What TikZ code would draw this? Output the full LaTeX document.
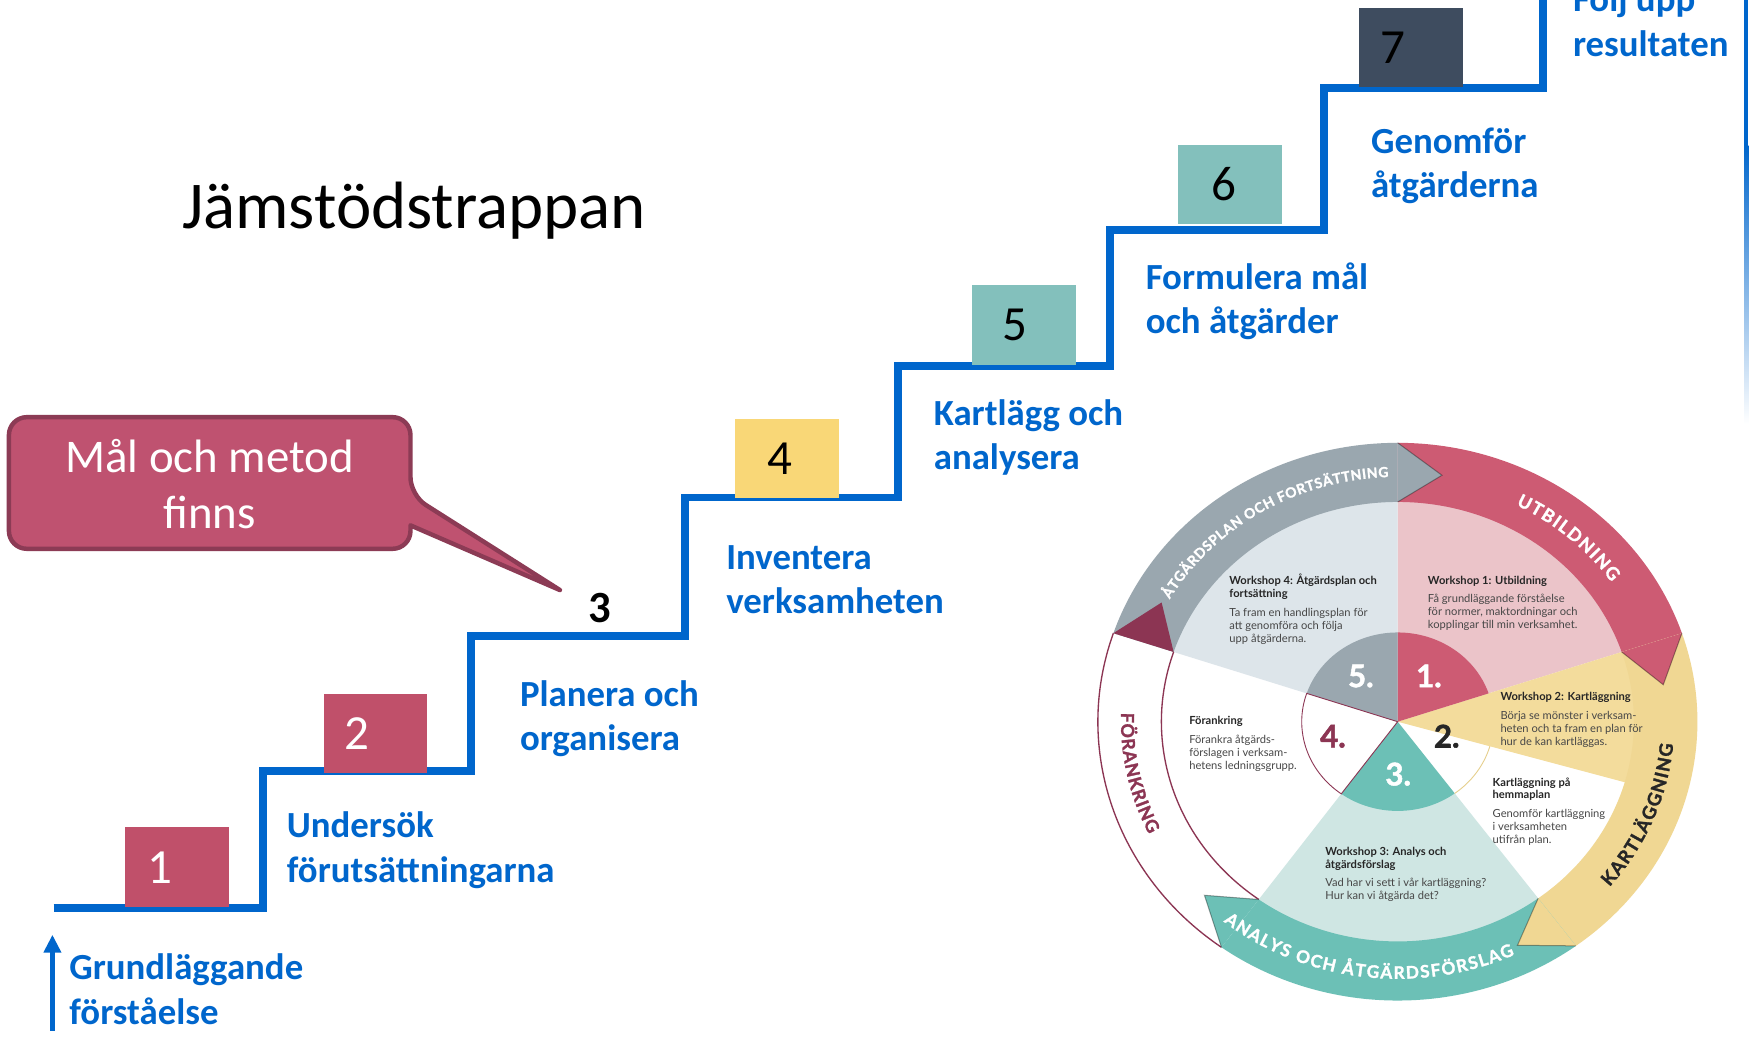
\documentclass[tikz,border=0pt]{standalone}
\usepackage{fontspec}
\setmainfont{Carlito}
\newfontfamily\lato{Lato}
\newfontfamily\latoheavy{Lato}[FakeBold=1.6]
\usetikzlibrary{arrows.meta,decorations.text}
\definecolor{sblue}{HTML}{0066CC}
\definecolor{rose}{HTML}{C0506A}
\definecolor{boxyellow}{HTML}{F9D777}
\definecolor{boxteal}{HTML}{83C0BC}
\definecolor{boxdark}{HTML}{3E4C5F}
\definecolor{callfill}{HTML}{BF5270}
\definecolor{callline}{HTML}{8C3B55}
\definecolor{cred}{HTML}{CD5B73}
\definecolor{cpink}{HTML}{EBC4C9}
\definecolor{cyel}{HTML}{F3DC9C}
\definecolor{cyelring}{HTML}{F0D793}
\definecolor{cteal}{HTML}{6CC0B6}
\definecolor{ctealL}{HTML}{CFE6E3}
\definecolor{cgrey}{HTML}{9AA7AF}
\definecolor{cgreyL}{HTML}{DDE5EA}
\definecolor{cdred}{HTML}{8C3553}
\definecolor{ctext}{HTML}{262626}
\definecolor{cbody}{HTML}{474747}
\definecolor{cyline}{HTML}{E6CF8C}
\tikzset{
  stair/.style={draw=sblue, line width=7pt, line join=miter},
  stepbox/.style={inner sep=0, minimum width=93pt, minimum height=71pt, anchor=south west},
  stepnum/.style={inner sep=0, font=\fontsize{44}{44}\selectfont},
  lbl/.style={inner sep=0, anchor=north west, align=left, text=sblue, font=\bfseries\fontsize{33}{40}\selectfont},
  blk/.style={inner sep=0, anchor=north west, align=left, text=cbody, font=\lato\fontsize{10}{11.6}\selectfont},
  cnum/.style={inner sep=0, font=\latoheavy\bfseries\fontsize{28}{28}\selectfont},
  tipedge/.style={draw=black, draw opacity=0.35, line width=0.9pt},
  ringsec/.style n args={6}{insert path={(#1:#3 and #4) -- (#1:#5 and #6) arc[start angle=#1, end angle=#2, x radius=#5, y radius=#6] -- (#2:#3 and #4) arc[start angle=#2, end angle=#1, x radius=#3, y radius=#4] -- cycle}},
  pie/.style n args={4}{insert path={(0,0) -- (#1:#3 and #4) arc[start angle=#1, end angle=#2, x radius=#3, y radius=#4] -- cycle}},
  ringtext/.style n args={3}{decorate, decoration={text along path, text align=fit to path, text color=#1, text={|\latoheavy\bfseries\fontsize{#2}{#2}\selectfont|#3}}},
}
\begin{document}
\begin{tikzpicture}[x=1pt,y=-1pt]
\useasboundingbox (0,0) rectangle (1568,930.6);
\fill[white] (0,0) rectangle (1568,930.6);

% faint right line
\fill[sblue] (1563.5,0) rectangle (1567.5,130);
\shade[top color=sblue, bottom color=white] (1563.5,130) rectangle (1567.5,380);

% title
\node[anchor=base west, inner sep=0, font=\fontsize{60}{60}\selectfont] (title) at (163,205) {Jämstödstrappan};

% staircase
\draw[stair] (48,814) -- (236,814) -- (236,691) -- (422,691) -- (422,570) -- (614,570) -- (614,446) -- (805,446) -- (805,328) -- (995,328) -- (995,206) -- (1187,206) -- (1187,79) -- (1383,79) -- (1383,-5);

% boxes
\node[stepbox, fill=rose] (b1) at (112,813) {};
\node[stepbox, fill=rose] (b2) at (290,693) {};
\node[stepbox, fill=boxyellow] (b4) at (659,447) {};
\node[stepbox, fill=boxteal] (b5) at (871,327) {};
\node[stepbox, fill=boxteal] (b6) at (1056,201) {};
\node[stepbox, fill=boxdark] (b7) at (1218,78) {};
\node[stepnum, text=white] (n1) at (143,778) {1};
\node[stepnum, text=white] (n2) at (320,658) {2};
\node[stepnum, font=\bfseries\fontsize{40}{40}\selectfont] (n3) at (538,545) {3};
\node[stepnum] (n4) at (699,411) {4};
\node[stepnum] (n5) at (910,291) {5};
\node[stepnum] (n6) at (1097,165) {6};
\node[stepnum] (n7) at (1249,43) {7};

% labels
\node[lbl] (g0) at (62,850) {\rule{0pt}{28pt}Grundläggande\\förståelse};
\node[lbl] (g1) at (257,723) {\rule{0pt}{28pt}Undersök\\förutsättningarna};
\node[lbl] (g2) at (466,605) {\rule{0pt}{28pt}Planera och\\organisera};
\node[lbl] (g3) at (651,482) {\rule{0pt}{28pt}Inventera\\verksamheten};
\node[lbl] (g4) at (837,353) {\rule{0pt}{28pt}Kartlägg och\\analysera};
\node[lbl] (g5) at (1027,231) {\rule{0pt}{28pt}Formulera mål\\och åtgärder};
\node[lbl] (g6) at (1229,109) {\rule{0pt}{28pt}Genomför\\åtgärderna};
\node[lbl] (g7) at (1410,-17.5) {\rule{0pt}{28pt}Följ upp\\resultaten};

% callout
\filldraw[fill=callfill, draw=callline, line width=4pt, line join=round] (8,433) [rounded corners=16pt] -- (8,374) -- (368,374) -- (368,444) [sharp corners] -- (502,529) -- (368,471) [rounded corners=16pt] -- (368,492) -- (8,492) -- cycle;
\node[inner sep=0, anchor=north, align=center, text=white, font=\fontsize{42}{51}\selectfont] (calltext) at (188,383) {\rule{0pt}{40pt}Mål och metod\\finns};

% bottom arrow
\coordinate (abot) at (47,924);
\coordinate (atop) at (47,838);
\draw[sblue, line width=5pt, -{Triangle[width=15pt,length=16pt]}] (abot) -- (atop);

% circle
\begin{scope}[shift={(1253,647)}, y=1pt]
 \fill[cpink] (0,0) [pie={90}{18.5}{214}{199}];
 \fill[cyel] (0,0) [pie={18.5}{-16}{214}{199}];
 \fill[ctealL] (0,0) [pie={-53.5}{-126}{214}{199}];
 \fill[cgreyL] (0,0) [pie={161.5}{90}{214}{199}];
 \fill[cred] (0,0) [pie={90}{18.5}{86}{80}];
 \fill[cteal] (0,0) [pie={-53.5}{-126}{86}{80}];
 \fill[cgrey] (0,0) [pie={161.5}{90}{86}{80}];
 \draw[cyline, line width=0.8pt] (-16:86 and 80) arc[start angle=-16, end angle=-53.5, x radius=86, y radius=80];
 \draw[cdred, line width=0.8pt] (0,0) -- (-126:86 and 80) arc[start angle=-126, end angle=-198.5, x radius=86, y radius=80] -- cycle;
 % ring
 \fill[cred] (0,0) [ringsec={90}{18.5}{211.8}{197}{268.75}{250}];
 \fill[cyelring] (0,0) [ringsec={18.5}{-53.5}{211.8}{197}{268.75}{250}];
 \fill[cteal] (0,0) [ringsec={-53.5}{-126}{211.8}{197}{268.75}{250}];
 \fill[cgrey] (0,0) [ringsec={161.5}{90}{211.8}{197}{268.75}{250}];
 \draw[cdred, line width=1.2pt] (-126:268.75 and 250) arc[start angle=-126, end angle=-198.5, x radius=268.75, y radius=250];
 \draw[cdred, line width=1.2pt] (-126:211.8 and 197) arc[start angle=-126, end angle=-198.5, x radius=211.8, y radius=197];
 % tips
 \fill[cred] (18.5:268.75 and 250) -- (8.5:240.8 and 224) -- (18.5:211.8 and 197) -- cycle;
 \fill[cyelring] (-53.5:268.75 and 250) -- (-63.5:240.8 and 224) -- (-53.5:211.8 and 197) -- cycle;
 \fill[cteal] (-126:268.75 and 250) -- (-136:240.8 and 224) -- (-126:211.8 and 197) -- cycle;
 \fill[cdred] (161.5:268.75 and 250) -- (151.5:240.8 and 224) -- (161.5:211.8 and 197) -- cycle;
 \fill[cgrey] (90:268.75 and 250) -- (80.5:240.8 and 224) -- (90:211.8 and 197) -- cycle;
 \path[tipedge] (18.5:268.75 and 250) -- (8.5:240.8 and 224) -- (18.5:211.8 and 197);
 \path[tipedge] (-53.5:268.75 and 250) -- (-63.5:240.8 and 224) -- (-53.5:211.8 and 197);
 \path[tipedge] (-126:268.75 and 250) -- (-136:240.8 and 224) -- (-126:211.8 and 197);
 \path[tipedge] (90:268.75 and 250) -- (80.5:240.8 and 224) -- (90:211.8 and 197);
 % ring texts
 \path[ringtext={white}{12.5}{ÅTGÄRDSPLAN OCH FORTSÄTTNING}] (150:236 and 219.5) arc[start angle=150, end angle=92, x radius=236, y radius=219.5];
 \path[ringtext={white}{16}{UTBILDNING}] (63:234 and 218) arc[start angle=63, end angle=35, x radius=234, y radius=218];
 \path[ringtext={ctext}{16.5}{KARTLÄGGNING}] (-40:248 and 230.5) arc[start angle=-40, end angle=-5, x radius=248, y radius=230.5];
 \path[ringtext={white}{15.5}{ANALYS OCH ÅTGÄRDSFÖRSLAG}] (-129:248 and 230.5) arc[start angle=-129, end angle=-65, x radius=248, y radius=230.5];
 \path[ringtext={cdred}{16}{FÖRANKRING}] (178:248 and 230.5) arc[start angle=178, end angle=206, x radius=248, y radius=230.5];
\end{scope}

% circle numbers
\node[cnum, text=white] (c1) at (1281,606) {1.};
\node[cnum, text=white] (c5) at (1220,606) {5.};
\node[cnum, text=ctext] (c2) at (1297,660) {2.};
\node[cnum, text=cdred] (c4) at (1195,660) {4.};
\node[cnum, text=white] (c3) at (1253.5,694) {3.};

% circle text blocks
\node[blk] (t4) at (1102,514.5) {\rule{0pt}{9pt}{\bfseries\color{ctext}Workshop 4: Åtgärdsplan och}\\{\bfseries\color{ctext}fortsättning}\\[5pt]Ta fram en handlingsplan för\\att genomföra och följa\\upp åtgärderna.};
\node[blk] (t1) at (1280,514.5) {\rule{0pt}{9pt}{\bfseries\color{ctext}Workshop 1: Utbildning}\\[5pt]Få grundläggande förståelse\\för normer, maktordningar och\\kopplingar till min verksamhet.};
\node[blk] (t2) at (1345,619) {\rule{0pt}{9pt}{\bfseries\color{ctext}Workshop 2: Kartläggning}\\[5pt]Börja se mönster i verksam-\\heten och ta fram en plan för\\hur de kan kartläggas.};
\node[blk] (th) at (1338,695.5) {\rule{0pt}{9pt}{\bfseries\color{ctext}Kartläggning på}\\{\bfseries\color{ctext}hemmaplan}\\[5pt]Genomför kartläggning\\i verksamheten\\utifrån plan.};
\node[blk] (t3) at (1188,757.5) {\rule{0pt}{9pt}{\bfseries\color{ctext}Workshop 3: Analys och}\\{\bfseries\color{ctext}åtgärdsförslag}\\[5pt]Vad har vi sett i vår kartläggning?\\Hur kan vi åtgärda det?};
\node[blk] (tf) at (1066,640.5) {\rule{0pt}{9pt}{\bfseries\color{ctext}Förankring}\\[5pt]Förankra åtgärds-\\förslagen i verksam-\\hetens ledningsgrupp.};
\end{tikzpicture}
\end{document}
